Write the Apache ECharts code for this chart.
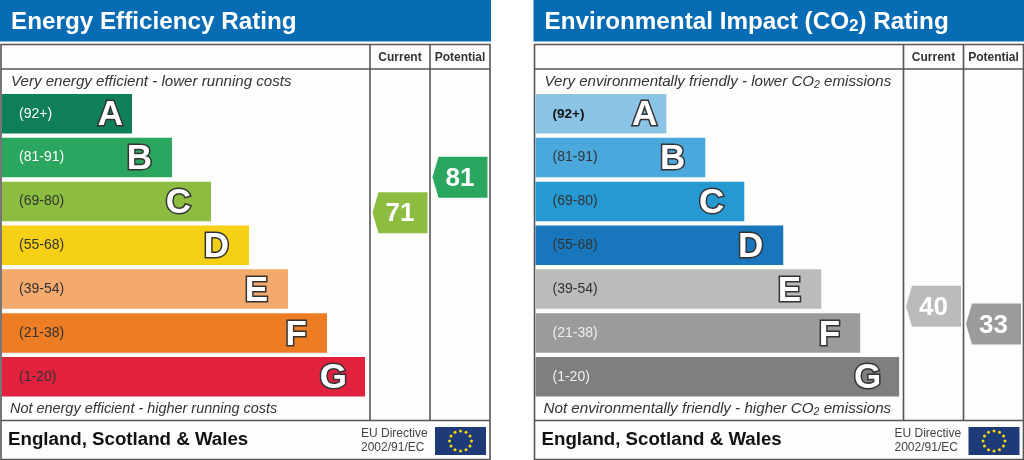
<!DOCTYPE html>
<html><head><meta charset="utf-8">
<style>html,body{margin:0;padding:0;background:#fff}#c{width:1024px;height:460px}</style>
<script src="https://cdn.jsdelivr.net/npm/echarts@6/dist/echarts.min.js"></script>
</head><body><div id="c"></div>
<script>
const bands = ['A','B','C','D','E','F','G'];
const ranges = ['(92+)','(81-91)','(69-80)','(55-68)','(39-54)','(21-38)','(1-20)'];
const columns = ['Current','Potential'];
const energyLengths = [130,170,209,247,286,325,363];
const co2Lengths = [131,170,209,248,286,325,364];
const energyColours = ['#0f7f5b','#2aa65f','#8dbd40','#f6d016','#f4aa6c','#ec7d24','#e1213e'];
const co2Colours = ['#8cc4e6','#4aa8dc','#2698d2','#1877bc','#bbbbb9','#9b9b9b','#7f7f7f'];
const energyRangeInk = ['#fff','#fff','#333','#333','#333','#333','#333'];
const co2RangeInk = ['#111','#333','#333','#333','#333','#eee','#eee'];
const energyScores = [71,81];
const co2Scores = [40,33];
const energyScorePos = [2.76,1.95];
const co2ScorePos = [4.89,5.30];
const energyScoreColours = ['#8dbd40','#2aa65f'];
const co2ScoreColours = ['#bbbbb9','#9b9b9b'];

const FONT = '"Liberation Sans", Arial, sans-serif';
const LINE = '#555';
const series = [], grid = [], xAxis = [], yAxis = [], graphic = [];

function line(x1,y1,x2,y2,w){
  graphic.push({type:'line',shape:{x1,y1,x2,y2},style:{stroke:LINE,lineWidth:w||1.6},silent:true});
}
function txt(x,y,text,style){
  graphic.push({type:'text',x,y,silent:true,style:Object.assign({text,fontFamily:FONT,verticalAlign:'middle',align:'left'},style)});
}
function panel(i,ox,lengths,colours,rangeInk,scores,pos,scoreColours,title,top,bottom,bottomSize){
  graphic.push({type:'rect',shape:{x:ox,y:0,width:491,height:41.5},style:{fill:'#086cb4'},silent:true});
  graphic.push({type:'rect',shape:{x:ox+1,y:44.5,width:489,height:415},style:{fill:'#fdfdfc',stroke:LINE,lineWidth:1.6},silent:true});
  line(ox+1,69,ox+490,69);
  line(ox+1,420.5,ox+490,420.5);
  line(ox+370,44.5,ox+370,420.5);
  line(ox+430,44.5,ox+430,420.5);
  txt(ox+11,22,title,{fontSize:24.25,fontWeight:'bold',fill:'#fff',rich:{s:{fontSize:17,fontWeight:'bold',fill:'#fff',fontFamily:FONT,padding:[9,0,0,0]}}});
  const itRich={s:{fontSize:10.5,fontStyle:'italic',fill:'#333',fontFamily:FONT,padding:[6,0,0,0]}};
  txt(ox+11,82,top,{fontSize:15.1,fontStyle:'italic',fill:'#333',rich:itRich});
  txt(ox+10,409,bottom,{fontSize:bottomSize,fontStyle:'italic',fill:'#333',rich:itRich});
  txt(ox+8,439.5,'England, Scotland & Wales',{fontSize:18.7,fontWeight:'bold',fill:'#111'});
  txt(ox+361,433.5,'EU Directive',{fontSize:12,fill:'#444'});
  txt(ox+361,447.5,'2002/91/EC',{fontSize:12,fill:'#444'});
  graphic.push({type:'rect',shape:{x:ox+435,y:427,width:51,height:28},style:{fill:'#1f3a78'},silent:true});
  for(let k=0;k<12;k++){
    const a=k*Math.PI/6;
    graphic.push({type:'circle',shape:{cx:ox+460.5+11*Math.sin(a),cy:441-10*Math.cos(a),r:1.5},style:{fill:'#f5d90a'},silent:true});
  }
  const g1=grid.length;
  grid.push({left:ox+2,top:91.9,width:489,height:306.7,containLabel:false,show:false});
  grid.push({left:ox+370,top:91.9,width:120,height:306.7,containLabel:false,show:false});
  xAxis.push({gridIndex:g1,type:'value',min:0,max:489,show:false});
  xAxis.push({gridIndex:g1+1,type:'category',data:columns,position:'top',
    axisLine:{show:false},axisTick:{show:false},splitLine:{show:false},
    axisLabel:{show:true,interval:0,hideOverlap:false,showMinLabel:true,showMaxLabel:true,margin:28,fontFamily:FONT,fontSize:12,fontWeight:'bold',color:'#333'}});
  yAxis.push({gridIndex:g1,type:'category',data:bands,inverse:true,show:false});
  yAxis.push({gridIndex:g1+1,type:'value',min:0,max:7,inverse:true,show:false});
  series.push({type:'bar',xAxisIndex:g1,yAxisIndex:g1,barWidth:39.5,barGap:'-100%',silent:true,
    data:lengths.map((v,k)=>({value:v,itemStyle:{color:colours[k]},
      label:{show:true,position:'insideLeft',distance:17,formatter:ranges[k],color:rangeInk[k],
        fontFamily:FONT,fontSize:k===0&&i===1?13.5:14,fontWeight:k===0&&i===1?'bold':'normal'}}))});
  series.push({type:'bar',xAxisIndex:g1,yAxisIndex:g1,barWidth:39.5,barGap:'-100%',silent:true,
    itemStyle:{color:'transparent'},
    data:lengths.map((v,k)=>({value:v,
      label:{show:true,position:'insideRight',distance:k===0?9:(k===6?18:20),offset:[0,2],formatter:bands[k],color:'#fff',
        textBorderColor:'#333',textBorderWidth:3,fontFamily:FONT,fontSize:35,fontWeight:'bold'}}))});
  series.push({type:'scatter',xAxisIndex:g1+1,yAxisIndex:g1+1,silent:true,
    symbol:'path://M0,20.5 L6,0 L55,0 L55,41 L6,41 Z',symbolSize:[55,41],
    data:scores.map((v,k)=>({value:[columns[k],pos[k]],itemStyle:{color:scoreColours[k],opacity:1},
      label:{show:true,position:'inside',offset:[0,1.5],formatter:String(v),color:'#fff',
        fontFamily:FONT,fontSize:26,fontWeight:'bold'}}))});
}
panel(0,0,energyLengths,energyColours,energyRangeInk,energyScores,energyScorePos,energyScoreColours,
  'Energy Efficiency Rating','Very energy efficient - lower running costs','Not energy efficient - higher running costs',14.45);
panel(1,533.5,co2Lengths,co2Colours,co2RangeInk,co2Scores,co2ScorePos,co2ScoreColours,
  'Environmental Impact (CO{s|2}) Rating','Very environmentally friendly - lower CO{s|2} emissions','Not environmentally friendly - higher CO{s|2} emissions',15.2);

const chart=echarts.init(document.getElementById('c'),null,{renderer:'canvas'});
chart.setOption({animation:false,backgroundColor:'#fff',tooltip:{show:false},grid,xAxis,yAxis,series,graphic:{elements:graphic}});
</script></body></html>
